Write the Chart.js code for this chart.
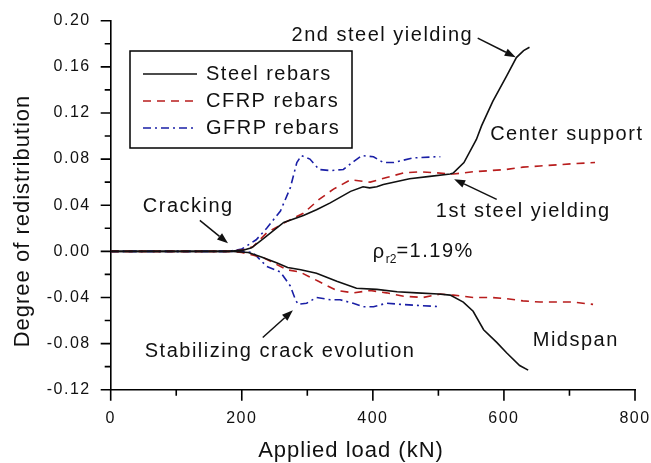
<!DOCTYPE html>
<html>
<head>
<meta charset="utf-8">
<script src="https://cdn.jsdelivr.net/npm/chart.js@4.4.1/dist/chart.umd.min.js"></script>
<style>
  body { margin: 0; background: #fff; }
  canvas { display: block; }
</style>
</head>
<body>
<canvas id="redistChart" width="651" height="463"></canvas>
<script>
// Data: applied load (kN) vs degree of redistribution
const steelSupportLoad = [0, 100, 180, 202, 215, 233, 264, 294, 314, 335, 366, 385, 395, 406, 416, 456, 487, 518, 523, 539, 558, 566, 583, 604, 619, 630, 639];
const steelSupportDor  = [0, 0, 0, 0.001, 0.003, 0.011, 0.025, 0.031, 0.036, 0.042, 0.052, 0.056, 0.055, 0.056, 0.058, 0.063, 0.065, 0.067, 0.068, 0.077, 0.097, 0.109, 0.130, 0.152, 0.168, 0.174, 0.177];

const steelMidLoad = [0, 100, 180, 210, 230, 253, 270, 290, 314, 345, 375, 406, 437, 467, 500, 518, 538, 553, 569, 589, 604, 624, 637];
const steelMidDor  = [0, 0, 0, -0.001, -0.005, -0.010, -0.014, -0.016, -0.019, -0.026, -0.032, -0.033, -0.035, -0.036, -0.037, -0.038, -0.044, -0.052, -0.068, -0.079, -0.088, -0.099, -0.103];

const cfrpSupportLoad = [0, 100, 180, 200, 217, 238, 269, 294, 318, 340, 366, 396, 421, 447, 472, 498, 523, 553, 579, 604, 629, 655, 681, 705, 739];
const cfrpSupportDor  = [0, 0, 0, 0.001, 0.004, 0.016, 0.026, 0.033, 0.045, 0.054, 0.062, 0.060, 0.064, 0.068, 0.069, 0.068, 0.067, 0.069, 0.070, 0.071, 0.073, 0.074, 0.075, 0.076, 0.077];

const cfrpMidLoad = [0, 100, 180, 200, 233, 269, 289, 317, 345, 370, 396, 421, 447, 477, 503, 523, 553, 579, 604, 629, 655, 681, 705, 736];
const cfrpMidDor  = [0, 0, 0, -0.001, -0.0055, -0.016, -0.018, -0.026, -0.034, -0.036, -0.034, -0.036, -0.039, -0.040, -0.037, -0.038, -0.040, -0.040, -0.041, -0.043, -0.044, -0.044, -0.044, -0.046];

const gfrpSupportLoad = [0, 100, 180, 200, 222, 238, 259, 274, 284, 291, 304, 318, 335, 355, 371, 383, 401, 416, 432, 461, 497, 503];
const gfrpSupportDor  = [0, 0, 0, 0.002, 0.010, 0.020, 0.035, 0.055, 0.077, 0.083, 0.080, 0.071, 0.070, 0.071, 0.078, 0.083, 0.082, 0.077, 0.077, 0.081, 0.082, 0.082];

const gfrpMidLoad = [0, 100, 180, 200, 217, 238, 259, 274, 282, 286, 299, 314, 335, 350, 370, 385, 401, 421, 442, 472, 503];
const gfrpMidDor  = [0, 0, 0, 0, -0.001, -0.013, -0.018, -0.030, -0.042, -0.046, -0.045, -0.040, -0.042, -0.042, -0.045, -0.048, -0.048, -0.045, -0.046, -0.047, -0.048];

const seriesLabels = ['Steel rebars', 'CFRP rebars', 'GFRP rebars'];
const xTicks = [0, 200, 400, 600, 800];
const yTicks = [-0.12, -0.08, -0.04, 0.00, 0.04, 0.08, 0.12, 0.16, 0.20];

const FONT = "'Liberation Sans', Arial, sans-serif";
const steelColor = '#111111';
const cfrpColor = '#b81d1d';
const gfrpColor = '#1a1fa6';

function toPoints(xs, ys) {
    return xs.map((x, i) => ({ x: x, y: ys[i] }));
}

function lineSet(label, xs, ys, color, dash) {
    return {
        label: label,
        data: toPoints(xs, ys),
        borderColor: color,
        borderWidth: 1.6,
        borderDash: dash,
        pointRadius: 0,
        tension: 0,
        fill: false
    };
}

// minor/major tick marks pointing outward
const tickMarks = {
    id: 'tickMarks',
    afterDraw(chart) {
        const ctx = chart.ctx;
        const xs = chart.scales.x, ys = chart.scales.y;
        const area = chart.chartArea;
        ctx.save();
        ctx.strokeStyle = '#000';
        ctx.lineWidth = 1.6;
        ctx.beginPath();
        for (let i = 0; i <= 16; i++) {
            const v = yTicks[0] + i * 0.02;
            const py = ys.getPixelForValue(v);
            const len = i % 2 === 0 ? 10 : 6;
            ctx.moveTo(area.left - len, py);
            ctx.lineTo(area.left, py);
        }
        for (let i = 0; i <= 8; i++) {
            const px = xs.getPixelForValue(i * 100);
            const len = i % 2 === 0 ? 11 : 6;
            ctx.moveTo(px, area.bottom);
            ctx.lineTo(px, area.bottom + len);
        }
        ctx.stroke();
        ctx.restore();
    }
};

// letter spacing similar to the original rendering
const spacing = {
    id: 'spacing',
    beforeDraw(chart) {
        chart.ctx.letterSpacing = '1.5px';
    }
};

function arrow(ctx, x1, y1, x2, y2) {
    const ang = Math.atan2(y2 - y1, x2 - x1);
    const hl = 11, hw = 4;
    const bx = x2 - hl * Math.cos(ang), by = y2 - hl * Math.sin(ang);
    ctx.beginPath();
    ctx.moveTo(x1, y1);
    ctx.lineTo(bx, by);
    ctx.stroke();
    ctx.beginPath();
    ctx.moveTo(x2, y2);
    ctx.lineTo(bx + hw * Math.sin(ang), by - hw * Math.cos(ang));
    ctx.lineTo(bx - hw * Math.sin(ang), by + hw * Math.cos(ang));
    ctx.closePath();
    ctx.fill();
}

// annotation positions in data units (load, degree)
const notes = [
    { text: '2nd steel yielding', x: 276, y: 0.1875 },
    { text: 'Center support', x: 579, y: 0.1016 },
    { text: '1st steel yielding', x: 496, y: 0.0347 },
    { text: 'Cracking', x: 49, y: 0.0391 },
    { text: 'Midspan', x: 644, y: -0.0773 },
    { text: 'Stabilizing crack evolution', x: 52, y: -0.0868 }
];
const arrows = [
    [560, 0.1849, 618, 0.1684],
    [589, 0.0451, 524, 0.0625],
    [136, 0.0269, 179, 0.0069],
    [232, -0.0747, 278, -0.0512]
];

const annotations = {
    id: 'annotations',
    afterDraw(chart) {
        const ctx = chart.ctx;
        const xs = chart.scales.x, ys = chart.scales.y;
        ctx.save();
        ctx.fillStyle = '#111';
        ctx.strokeStyle = '#111';
        ctx.lineWidth = 1.5;
        ctx.letterSpacing = '1.5px';
        ctx.font = '20px ' + FONT;
        ctx.textBaseline = 'middle';
        ctx.textAlign = 'left';
        notes.forEach(n => {
            ctx.fillText(n.text, xs.getPixelForValue(n.x), ys.getPixelForValue(n.y));
        });
        arrows.forEach(a => {
            arrow(ctx, xs.getPixelForValue(a[0]), ys.getPixelForValue(a[1]),
                xs.getPixelForValue(a[2]), ys.getPixelForValue(a[3]));
        });

        // rho_r2 = 1.19%
        let px = xs.getPixelForValue(400);
        const py = ys.getPixelForValue(-0.0005);
        ctx.fillText('ρ', px, py + 1);
        px += ctx.measureText('ρ').width;
        ctx.font = '12px ' + FONT;
        ctx.letterSpacing = '0px';
        ctx.fillText('r2', px, py + 8);
        px += ctx.measureText('r2').width;
        ctx.font = '20px ' + FONT;
        ctx.letterSpacing = '1.5px';
        ctx.fillText('=1.19%', px, py);

        // axis titles
        ctx.font = '22px ' + FONT;
        ctx.letterSpacing = '1px';
        ctx.textAlign = 'center';
        ctx.fillText('Applied load (kN)', 351, 451);
        ctx.save();
        ctx.translate(23, 221);
        ctx.rotate(-Math.PI / 2);
        ctx.fillText('Degree of redistribution', 0, 0);
        ctx.restore();

        // legend box
        const lx = 130, ly = 51, lw = 222, lh = 97;
        ctx.lineWidth = 1.5;
        ctx.strokeStyle = '#000';
        ctx.strokeRect(lx, ly, lw, lh);
        ctx.font = '20px ' + FONT;
        ctx.letterSpacing = '1.5px';
        ctx.textAlign = 'left';
        [0, 2, 4].forEach((di, row) => {
            const ds = chart.data.datasets[di];
            const ry = 74 + row * 27;
            ctx.save();
            ctx.strokeStyle = ds.borderColor;
            ctx.lineWidth = ds.borderWidth;
            ctx.setLineDash(ds.borderDash || []);
            ctx.beginPath();
            ctx.moveTo(143, ry);
            ctx.lineTo(197, ry);
            ctx.stroke();
            ctx.restore();
            ctx.fillText(seriesLabels[row], 206, ry);
        });
        ctx.restore();
    }
};

const redistChart = new Chart(
    document.getElementById('redistChart'),
    {
        type: 'line',
        data: {
            datasets: [
                lineSet(seriesLabels[0], steelSupportLoad, steelSupportDor, steelColor, []),
                lineSet(seriesLabels[0], steelMidLoad, steelMidDor, steelColor, []),
                lineSet(seriesLabels[1], cfrpSupportLoad, cfrpSupportDor, cfrpColor, [8, 6]),
                lineSet(seriesLabels[1], cfrpMidLoad, cfrpMidDor, cfrpColor, [8, 6]),
                lineSet(seriesLabels[2], gfrpSupportLoad, gfrpSupportDor, gfrpColor, [8, 4, 2, 4]),
                lineSet(seriesLabels[2], gfrpMidLoad, gfrpMidDor, gfrpColor, [8, 4, 2, 4])
            ]
        },
        options: {
            responsive: false,
            animation: false,
            layout: { padding: { top: 20.7, right: 16, left: 0, bottom: 0 } },
            plugins: {
                legend: { display: false },
                tooltip: { enabled: false }
            },
            scales: {
                x: {
                    type: 'linear',
                    min: xTicks[0],
                    max: xTicks[xTicks.length - 1],
                    afterBuildTicks(s) { s.ticks = xTicks.map(v => ({ value: v })); },
                    afterFit(s) {
                        s.height = 73.3;
                        s.paddingLeft = 0;
                        s.paddingRight = 0;
                    },
                    ticks: {
                        padding: 19,
                        color: '#111',
                        font: { family: FONT, size: 16 },
                        maxRotation: 0,
                        callback: v => String(v)
                    },
                    grid: { display: false, drawTicks: false },
                    border: { display: true, color: '#000', width: 1.6 }
                },
                y: {
                    min: yTicks[0],
                    max: yTicks[yTicks.length - 1],
                    afterBuildTicks(s) { s.ticks = yTicks.map(v => ({ value: v })); },
                    afterFit(s) {
                        s.width = 110.7;
                        s.paddingTop = 0;
                        s.paddingBottom = 0;
                    },
                    ticks: {
                        padding: 20,
                        color: '#111',
                        font: { family: FONT, size: 16 },
                        callback: v => (Math.abs(v) < 1e-9 ? 0 : v).toFixed(2)
                    },
                    grid: { display: false, drawTicks: false },
                    border: { display: true, color: '#000', width: 1.6 }
                }
            }
        },
        plugins: [spacing, tickMarks, annotations]
    }
);
</script>
</body>
</html>
